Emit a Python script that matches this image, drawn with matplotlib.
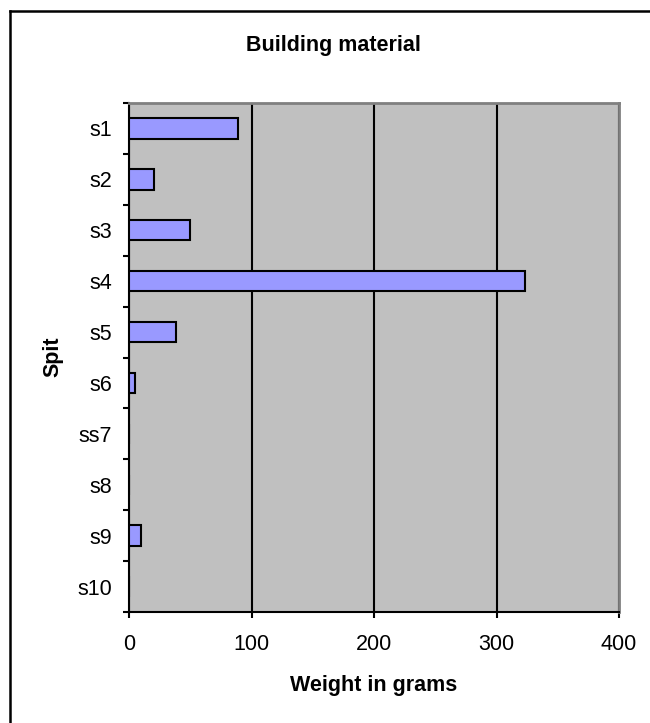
import matplotlib.pyplot as plt
import numpy as np
from matplotlib.lines import Line2D

plt.rcParams['font.family'] = ['Liberation Sans', 'DejaVu Sans']

# weight of building material per spit
spits = ["s1", "s2", "s3", "s4", "s5", "s6", "ss7", "s8", "s9", "s10"]
weights = [89, 20, 50, 323, 38, 5, 0, 0, 10, 0]
x_ticks = [0, 100, 200, 300, 400]

fig = plt.figure(figsize=(6.5, 7.23), dpi=100)
ax = fig.add_axes([129 / 650, 1 - 612 / 723, 490 / 650, 509 / 723])
ax.set_facecolor("#C0C0C0")

pos = np.arange(len(spits))
ax.barh(pos, weights, height=0.4, color="#9999FF", edgecolor="black", linewidth=1.5, zorder=3)

ax.set_xlim(0, 400)
ax.set_ylim(len(spits) - 0.5, -0.5)
ax.set_xticks(x_ticks)
ax.set_xticklabels([str(t) for t in x_ticks], fontsize=15.5)
ax.set_yticks(pos)
ax.set_yticklabels(spits, fontsize=15.5)
ax.set_yticks(np.arange(-0.5, len(spits), 1), minor=True)

ax.tick_params(axis="y", which="major", length=0, pad=12)
ax.tick_params(axis="y", which="minor", length=4.5, width=1.5, direction="out")
ax.tick_params(axis="x", which="major", length=4.5, width=1.5, direction="out", pad=11)

ax.xaxis.grid(True, color="black", linewidth=1.5)
ax.set_axisbelow(True)

for side in ["left", "bottom"]:
    ax.spines[side].set_color("black")
    ax.spines[side].set_linewidth(1.5)
for side in ["top", "right"]:
    ax.spines[side].set_color("#808080")
    ax.spines[side].set_linewidth(2)

# chart frame (top and left edges)
fig.add_artist(Line2D([10 / 650, 1], [1 - 11 / 723, 1 - 11 / 723], color="black", linewidth=1.8, transform=fig.transFigure))
fig.add_artist(Line2D([10 / 650, 10 / 650], [0, 1 - 11 / 723], color="black", linewidth=1.8, transform=fig.transFigure))

fig.text(333 / 650, 1 - 46 / 723, "Building material", ha="center", va="center", fontsize=15.5, fontweight="bold")
fig.text(374 / 650, 1 - 686 / 723, "Weight in grams", ha="center", va="center", fontsize=15.5, fontweight="bold")
fig.text(53 / 650, 1 - 357 / 723, "Spit", ha="center", va="center", rotation=90, fontsize=15.5, fontweight="bold")

fig.savefig("out.png", dpi=100)
